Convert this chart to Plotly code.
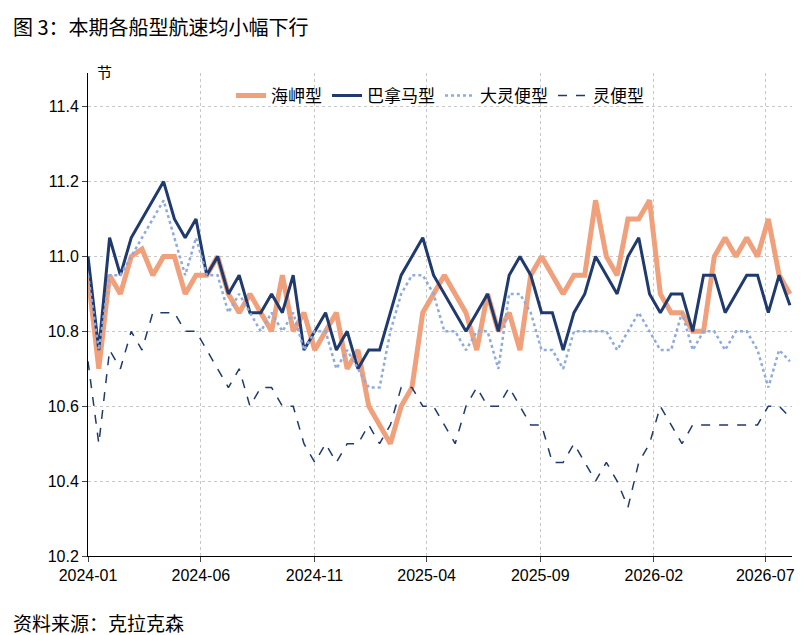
import pandas as pd
import plotly.graph_objects as go

cape = [10.95,10.7,10.95,10.9,11.0,11.02,10.95,11.0,11.0,10.9,10.95,10.95,11.0,10.9,10.85,10.9,10.85,10.8,10.95,10.8,10.85,10.75,10.8,10.85,10.7,10.75,10.6,10.55,10.5,10.6,10.65,10.85,10.9,10.95,10.9,10.85,10.75,10.9,10.8,10.85,10.75,10.95,11.0,10.95,10.9,10.95,10.95,11.15,11.0,10.95,11.1,11.1,11.15,10.9,10.85,10.85,10.8,10.8,11.0,11.05,11.0,11.05,11.0,11.1,10.95,10.9]
pana = [11.0,10.75,11.05,10.95,11.05,11.1,11.15,11.2,11.1,11.05,11.1,10.95,11.0,10.9,10.95,10.85,10.85,10.9,10.85,10.95,10.75,10.8,10.85,10.75,10.8,10.7,10.75,10.75,10.85,10.95,11.0,11.05,10.95,10.9,10.85,10.8,10.85,10.9,10.8,10.95,11.0,10.95,10.85,10.85,10.75,10.85,10.9,11.0,10.95,10.9,11.0,11.05,10.9,10.85,10.9,10.9,10.8,10.95,10.95,10.85,10.9,10.95,10.95,10.85,10.95,10.87]
supra = [10.95,10.75,10.95,10.95,11.0,11.05,11.1,11.15,11.05,10.95,11.05,10.95,10.95,10.85,10.9,10.85,10.8,10.85,10.8,10.85,10.75,10.8,10.8,10.7,10.75,10.7,10.65,10.65,10.8,10.9,10.95,10.95,10.9,10.8,10.8,10.75,10.8,10.8,10.7,10.9,10.9,10.85,10.75,10.75,10.7,10.8,10.8,10.8,10.8,10.75,10.8,10.85,10.8,10.75,10.75,10.85,10.75,10.8,10.8,10.75,10.8,10.8,10.75,10.65,10.75,10.72]
handy = [10.72,10.5,10.75,10.7,10.8,10.75,10.85,10.85,10.85,10.8,10.8,10.75,10.7,10.65,10.7,10.6,10.65,10.65,10.6,10.6,10.5,10.45,10.5,10.45,10.5,10.5,10.55,10.5,10.55,10.65,10.65,10.6,10.6,10.55,10.5,10.6,10.65,10.6,10.6,10.65,10.6,10.55,10.55,10.45,10.45,10.5,10.45,10.4,10.45,10.4,10.33,10.45,10.5,10.6,10.55,10.5,10.55,10.55,10.55,10.55,10.55,10.55,10.55,10.6,10.6,10.57]

series = [
    ("海岬型", cape, "#f0a07a", 5, "solid"),
    ("巴拿马型", pana, "#1f3a6e", 3, "solid"),
    ("大灵便型", supra, "#8faadc", 2.5, "dot"),
    ("灵便型", handy, "#1f3a6e", 1.5, "dash"),
]

fig = go.Figure()
for name, vals, color, w, dash in series:
    dates = pd.date_range("2024-01-01", periods=len(vals), freq="349h")
    fig.add_trace(go.Scatter(x=dates, y=vals, name=name, mode="lines",
                             line=dict(color=color, width=w, dash=dash)))

tickvals = ["2024-01-01","2024-06-01","2024-11-01","2025-04-01","2025-09-01","2026-02-01","2026-07-01"]
tickfont = dict(family="Liberation Sans, Arial", size=16, color="black")
fig.update_layout(
    width=810, height=635, plot_bgcolor="white", paper_bgcolor="white",
    margin=dict(l=80, r=26, t=65, b=87),
    font=dict(family="Noto Sans CJK SC, Arial", size=15, color="black"),
    legend=dict(orientation="h", x=0.5, xanchor="center", y=0.99, yanchor="top",
                font=dict(size=17), bgcolor="rgba(0,0,0,0)"),
    xaxis=dict(range=["2024-01-01","2026-08-06"], tickvals=tickvals, tickfont=tickfont,
               ticktext=[t[:7] for t in tickvals], showline=True, linecolor="black",
               ticks="outside", showgrid=True, gridcolor="#c8c8c8", griddash="dot"),
    yaxis=dict(range=[10.2, 11.49], dtick=0.2, tickformat=".1f", showline=True, tickfont=tickfont,
               linecolor="black", ticks="outside", showgrid=True,
               gridcolor="#c8c8c8", griddash="dot", zeroline=False),
    annotations=[
        dict(text="图 3：本期各船型航速均小幅下行", xref="paper", yref="paper", x=-0.11, y=1.13,
             xanchor="left", showarrow=False, font=dict(size=20)),
        dict(text="节", xref="paper", yref="paper", x=0.01, y=1.03, xanchor="left",
             showarrow=False, font=dict(size=15)),
        dict(text="资料来源：克拉克森", xref="paper", yref="paper", x=-0.11, y=-0.17,
             xanchor="left", showarrow=False, font=dict(size=19)),
    ],
)
fig.write_html("out.html")
